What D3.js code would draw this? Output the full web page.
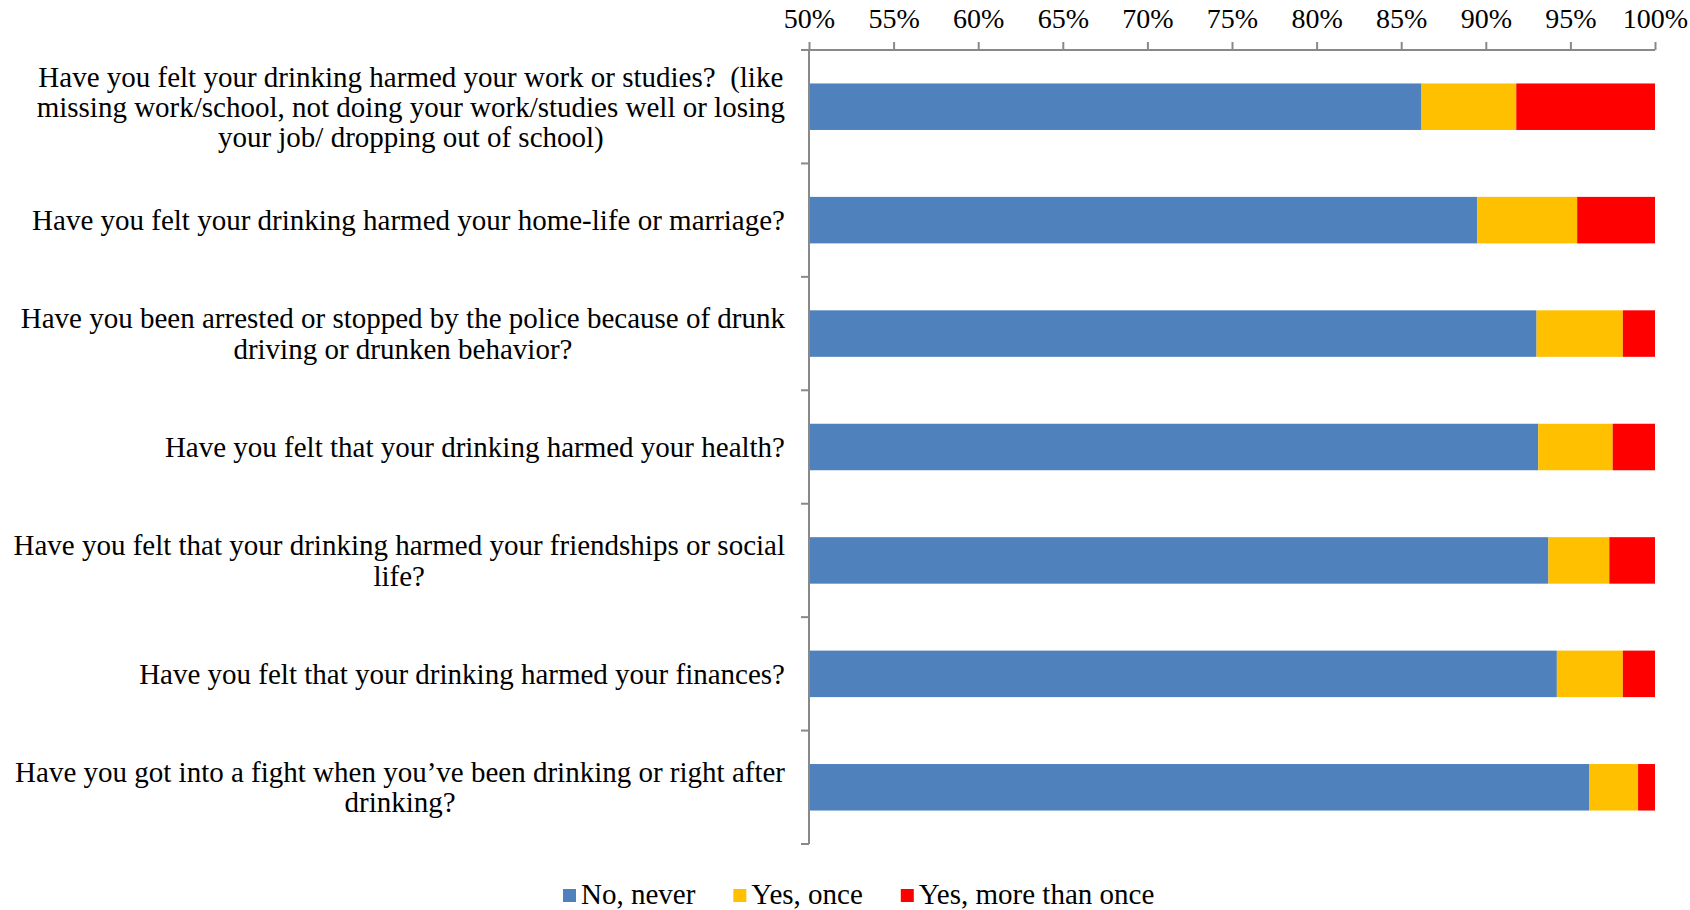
<!DOCTYPE html>
<html>
<head>
<meta charset="utf-8">
<script src="https://cdn.jsdelivr.net/npm/d3@7"></script>
<style>
  html, body { margin: 0; padding: 0; background: #ffffff; }
  svg text { font-family: Georgia, "Liberation Serif", "DejaVu Serif", serif; fill: #000; white-space: pre; }
</style>
</head>
<body>
<svg id="chart" width="1690" height="910"></svg>
<script>
// Survey questions (each entry holds the wrapped lines of one label)
const questions = [
  ["Have you felt your drinking harmed your work or studies?  (like",
   "missing work/school, not doing your work/studies well or losing",
   "your job/ dropping out of school)"],
  ["Have you felt your drinking harmed your home-life or marriage?"],
  ["Have you been arrested or stopped by the police because of drunk",
   "driving or drunken behavior?"],
  ["Have you felt that your drinking harmed your health?"],
  ["Have you felt that your drinking harmed your friendships or social",
   "life?"],
  ["Have you felt that your drinking harmed your finances?"],
  ["Have you got into a fight when you\u2019ve been drinking or right after",
   "drinking?"]
];

// Answer shares, in percent
const noNever         = [86.2, 89.5, 93.0, 93.1, 93.7, 94.2, 96.1];
const yesOnce         = [5.6, 5.9, 5.1, 4.4, 3.6, 3.9, 2.9];
const yesMoreThanOnce = [8.2, 4.6, 1.9, 2.5, 2.7, 1.9, 1.0];

const seriesNames = ["No, never", "Yes, once", "Yes, more than once"];
const seriesColors = ["#4F81BD", "#FFC000", "#FF0000"];
const tickValues = [50, 55, 60, 65, 70, 75, 80, 85, 90, 95, 100];

const svg = d3.select("#chart");
const axisColor = "#898989";
const fontSize = 29;

const plotLeft = 809, plotRight = 1655, plotTop = 50, plotBottom = 844;

const x = d3.scaleLinear().domain([50, 100]).range([plotLeft, plotRight]);
const y = d3.scaleBand().domain(d3.range(questions.length)).range([plotTop, plotBottom])
  .paddingInner(0.59).paddingOuter(0.295);
const yBands = d3.scaleBand().domain(d3.range(questions.length)).range([plotTop, plotBottom]);

// Stack the three answers per question
const rows = questions.map((q, i) => ({
  i,
  "No, never": noNever[i],
  "Yes, once": yesOnce[i],
  "Yes, more than once": yesMoreThanOnce[i]
}));
const stacked = d3.stack().keys(seriesNames)(rows);

const color = d3.scaleOrdinal().domain(seriesNames).range(seriesColors);

svg.append("g")
  .selectAll("g")
  .data(stacked)
  .join("g")
    .attr("fill", d => color(d.key))
  .selectAll("rect")
  .data(d => d)
  .join("rect")
    .attr("x", d => x(Math.max(50, d[0])))
    .attr("width", d => x(Math.min(100, d[1])) - x(Math.max(50, d[0])))
    .attr("y", d => y(d.data.i))
    .attr("height", y.bandwidth());

// Top value axis
const xAxis = svg.append("g")
  .attr("transform", `translate(0,${plotTop})`)
  .call(d3.axisTop(x).tickValues(tickValues).tickFormat(d => d + "%").tickSize(8).tickSizeOuter(0));
xAxis.select(".domain").attr("stroke", axisColor).attr("stroke-width", 2)
  .attr("d", `M${plotLeft - 8},0H${plotRight}`);
xAxis.selectAll(".tick line").attr("stroke", axisColor).attr("stroke-width", 2);
xAxis.selectAll(".tick text")
  .attr("y", -22)
  .attr("font-size", 28)
  .attr("font-family", "Georgia, 'Liberation Serif', serif")
  .attr("fill", "#000");

// Left category axis with ticks between the bands
const yAxisG = svg.append("g");
yAxisG.append("line")
  .attr("x1", plotLeft).attr("x2", plotLeft)
  .attr("y1", plotTop).attr("y2", plotBottom)
  .attr("stroke", axisColor).attr("stroke-width", 2);
const boundaries = d3.range(questions.length + 1).map(i => i < questions.length ? yBands(i) : plotBottom);
yAxisG.selectAll("line.tick")
  .data(boundaries)
  .join("line")
    .attr("class", "tick")
    .attr("x1", plotLeft - 8).attr("x2", plotLeft)
    .attr("y1", d => d).attr("y2", d => d)
    .attr("stroke", axisColor).attr("stroke-width", 2);

// Category labels: block right-aligned to the axis, lines centred within the block
const labelRight = 785;
const lineHeight = 30.2;
const labels = svg.append("g");
questions.forEach((lines, i) => {
  const g = labels.append("g");
  const cy = yBands(i) + yBands.bandwidth() / 2;
  const texts = lines.map((line, k) =>
    g.append("text")
      .attr("font-size", fontSize)
      .attr("text-anchor", "middle")
      .attr("dominant-baseline", "central")
      .attr("y", cy + (k - (lines.length - 1) / 2) * lineHeight)
      .text(line)
  );
  const maxW = d3.max(texts, t => t.node().getComputedTextLength());
  texts.forEach(t => t.attr("x", labelRight - maxW / 2));
});

// Legend
const legend = svg.append("g").attr("transform", "translate(563,894)");
let lx = 0;
seriesNames.forEach((name, i) => {
  legend.append("rect")
    .attr("x", lx).attr("y", -5)
    .attr("width", 13).attr("height", 13)
    .attr("fill", seriesColors[i]);
  const t = legend.append("text")
    .attr("x", lx + 18)
    .attr("font-size", 29)
    .attr("dominant-baseline", "central")
    .text(name);
  lx += 18 + t.node().getComputedTextLength() + 38;
});
</script>
</body>
</html>
